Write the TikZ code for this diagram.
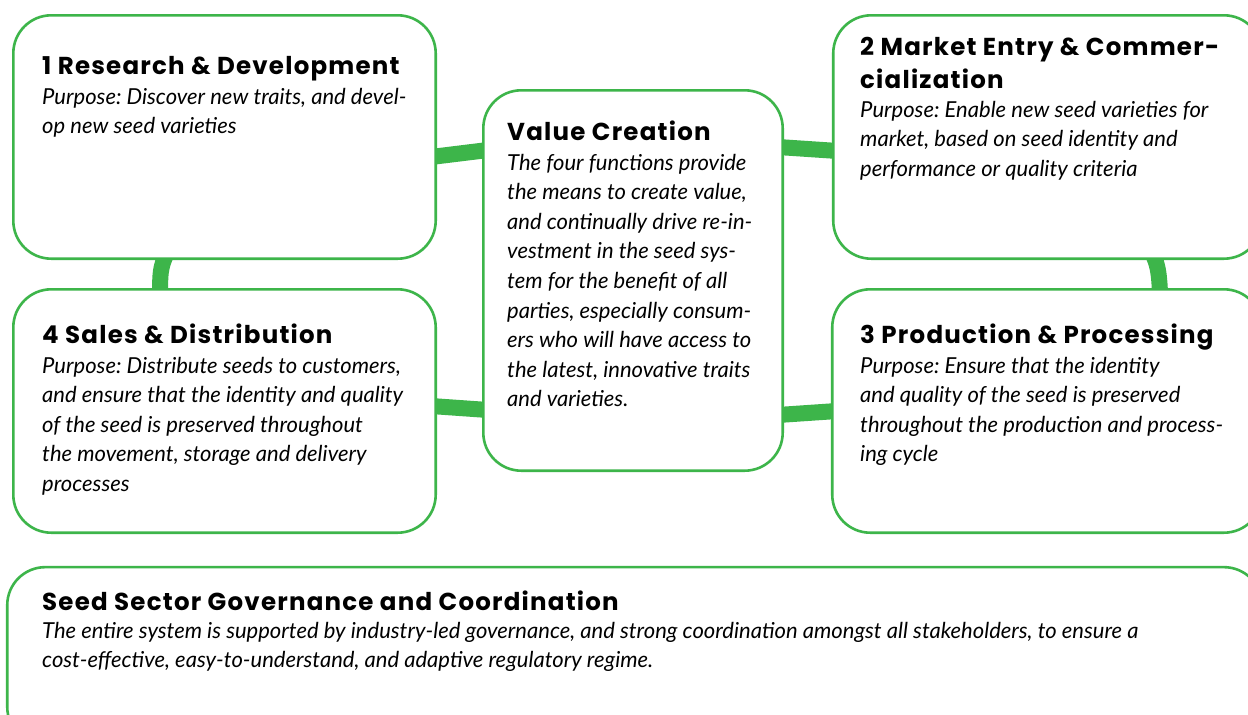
\documentclass[tikz,border=0pt]{standalone}
\usepackage{fontspec}
\setmainfont{Lato}
\newfontfamily\headfont{Poppins}[LetterSpace=5]
\newfontfamily\bodyfont{Lato}
\usetikzlibrary{backgrounds,calc}
\definecolor{sgreen}{RGB}{61,181,74}
\newcommand{\btxt}[2]{\parbox[t]{#1}{\raggedright\frenchspacing #2}}
\tikzset{
  box/.style={draw=sgreen, line width=2.6pt, fill=white, rounded corners=38pt, inner sep=0pt},
  link/.style={draw=sgreen, line width=16pt},
  head/.style={anchor=base west, inner sep=0pt, text=black, font=\headfont\bfseries\fontsize{24.5}{33}\selectfont},
  body/.style={anchor=base west, inner sep=0pt, text=black, font=\bodyfont\itshape\fontsize{22}{29.6}\selectfont},
}
\begin{document}
\begin{tikzpicture}[x=1pt,y=-1pt]
\useasboundingbox (0,0) rectangle (1248,715);
% boxes
\node[box, minimum width=422.4pt, minimum height=243.4pt] (r1) at (224.5,137) {};
\node[box, minimum width=422.4pt, minimum height=243.4pt] (r4) at (224.5,411) {};
\node[box, minimum width=299.4pt, minimum height=380.4pt] (vc) at (633,280.5) {};
\node[box, minimum width=428.7pt, minimum height=243.4pt] (r2) at (1047.6,137) {};
\node[box, minimum width=429.7pt, minimum height=243.4pt] (r3) at (1047.1,411) {};
\node[box, minimum width=1254.7pt, minimum height=177.7pt] (gv) at (634.6,656) {};
% connectors
\begin{scope}[on background layer]
\fill[white] (0,0) rectangle (1248,715);
\draw[link] ($(r1.east)+(-6,20)$) -- ($(vc.west)+(6,-130.5)$);
\draw[link] ($(vc.east)+(-6,-133.5)$) -- ($(r2.west)+(6,14)$);
\draw[link] ($(r4.east)+(-6,-5)$) -- ($(vc.west)+(6,129.5)$);
\draw[link] ($(vc.east)+(-6,134.5)$) -- ($(r3.west)+(6,0)$);
\draw[link] ($(r1.south)+(-58,-6)$) .. controls ($(r1.south)+(-64,6)$) and ($(r4.north)+(-65,-12)$) .. ($(r4.north)+(-64,6)$);
\draw[link] ($(r2.south)+(105,-6)$) .. controls ($(r2.south)+(111,6)$) and ($(r3.north)+(112,-12)$) .. ($(r3.north)+(113,6)$);
\end{scope}
% texts
\node[head] (h1) at (42,74) {1 Research \& Development};
\node[body] (b1) at (42,104) {\btxt{390pt}{Purpose: Discover new traits, and devel-\\op new seed varieties}};
\node[head] (h2) at (860,55) {\btxt{400pt}{2 Market Entry \& Commer-\\cialization}};
\node[body] (b2) at (860,117) {\btxt{390pt}{Purpose: Enable new seed varieties for\\market, based on seed identity and\\performance or quality criteria}};
\node[head] (h3) at (860,343) {3 Production \& Processing};
\node[body] (b3) at (860,373) {\btxt{390pt}{Purpose: Ensure that the identity\\and quality of the seed is preserved\\throughout the production and process-\\ing cycle}};
\node[head] (h4) at (42,343) {4 Sales \& Distribution};
\node[body] (b4) at (42,373) {\btxt{390pt}{Purpose: Distribute seeds to customers,\\and ensure that the identity and quality\\of the seed is preserved throughout\\the movement, storage and delivery\\processes}};
\node[head] (hv) at (507,140) {Value Creation};
\node[body] (bv) at (507,170) {\btxt{270pt}{The four functions provide\\the means to create value,\\and continually drive re-in-\\vestment in the seed sys-\\tem for the benefit of all\\parties, especially consum-\\ers who will have access to\\the latest, innovative traits\\and varieties.}};
\node[head] (hg) at (42,610) {Seed Sector Governance and Coordination};
\node[body] (bg) at (42,638) {\btxt{1190pt}{The entire system is supported by industry-led governance, and strong coordination amongst all stakeholders, to ensure a\\cost-effective, easy-to-understand, and adaptive regulatory regime.}};
\end{tikzpicture}
\end{document}
